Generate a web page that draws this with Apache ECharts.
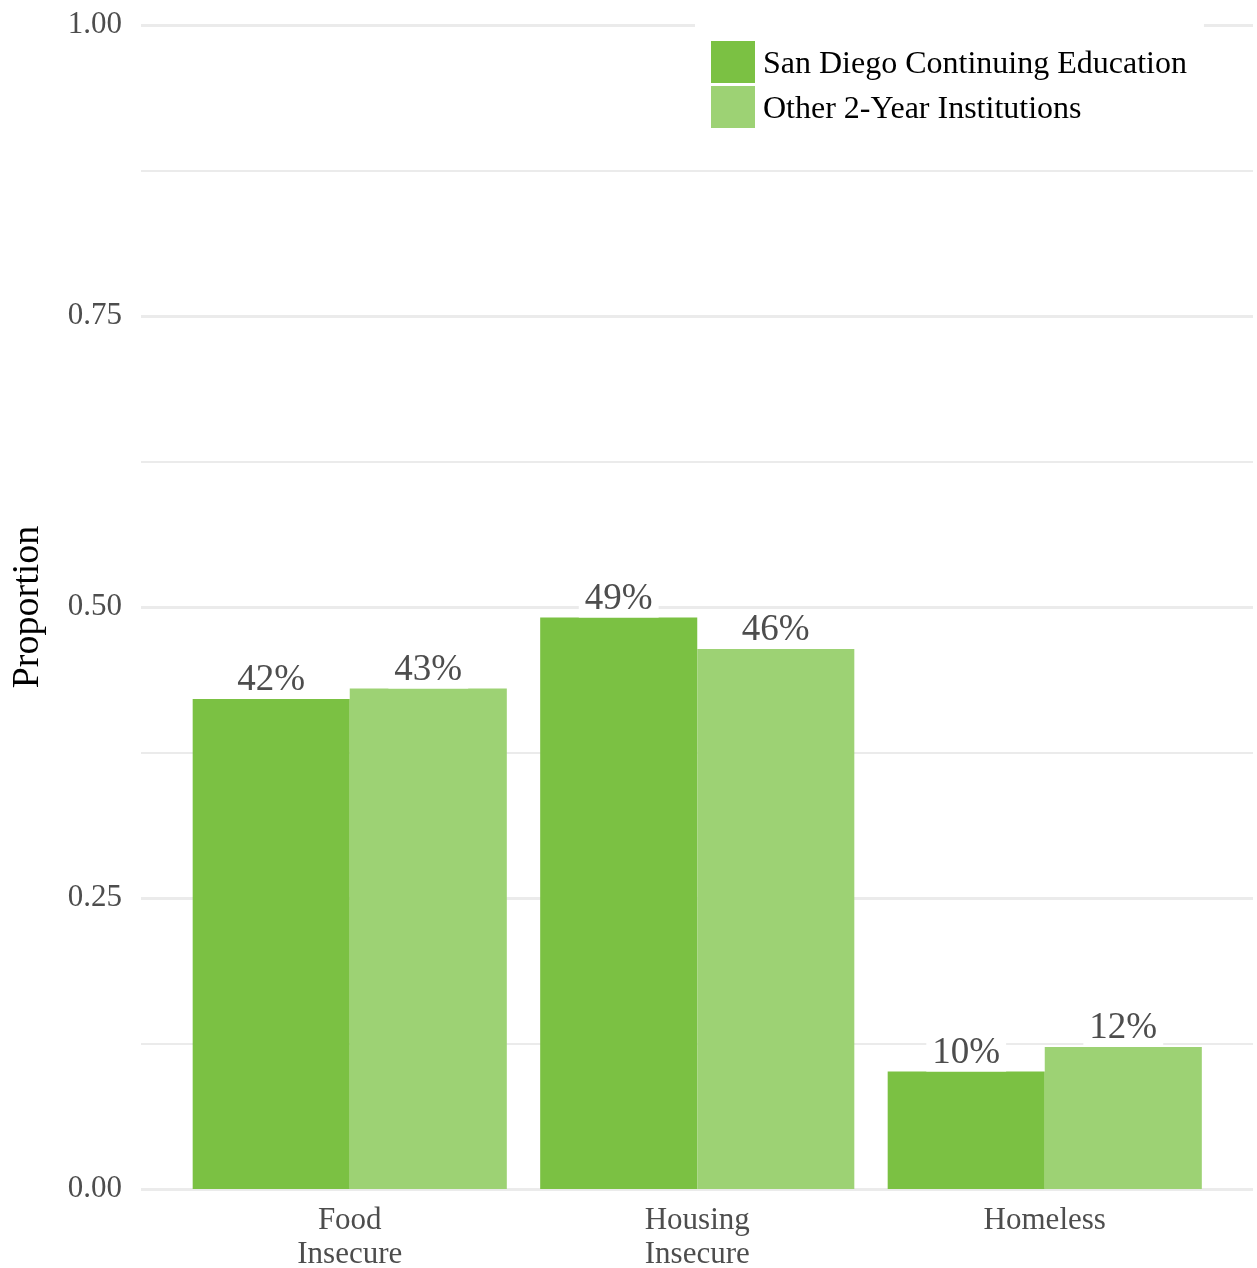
<!DOCTYPE html>
<html>
<head>
<meta charset="utf-8">
<script src="https://cdn.jsdelivr.net/npm/echarts@6/dist/echarts.min.js"></script>
<style>
  html, body { margin: 0; padding: 0; background: #fff; }
  #chart { width: 1257px; height: 1268px; }
</style>
</head>
<body>
<div id="chart"></div>
<script>
// Categories and proportions for each group
const categories = ['Food\nInsecure', 'Housing\nInsecure', 'Homeless'];
const sanDiego = [0.421, 0.491, 0.101];
const otherTwoYear = [0.43, 0.464, 0.122];
const seriesNames = ['San Diego Continuing Education', 'Other 2-Year Institutions'];
const yTicks = [0, 0.25, 0.5, 0.75, 1];

const FONT = '"Liberation Serif", "Times New Roman", serif';
const pct = p => Math.round(p.value * 100) + '%';

const barLabel = {
  show: true,
  position: 'top',
  distance: 0,
  formatter: pct,
  fontFamily: FONT,
  fontSize: 37,
  color: '#4d4d4d',
  backgroundColor: '#ffffff',
  padding: [0, 6, 0, 6],
  lineHeight: 37
};

const chart = echarts.init(document.getElementById('chart'), null, { renderer: 'canvas' });
chart.setOption({
  animation: false,
  backgroundColor: '#ffffff',
  // grid 0: full panel with the value gridlines; grid 1: the bars, inset like a padded discrete scale
  grid: [
    { left: 141, right: 4, top: 25, bottom: 79, containLabel: false, outerBoundsMode: 'none' },
    { left: 176, right: 38.5, top: 25, bottom: 79, containLabel: false, outerBoundsMode: 'none' }
  ],
  legend: {
    data: seriesNames,
    left: 695,
    top: 20,
    orient: 'vertical',
    icon: 'rect',
    itemWidth: 44,
    itemHeight: 42,
    itemGap: 3,
    padding: [21, 17, 20, 16],
    backgroundColor: '#ffffff',
    formatter: name => '{t|' + name + '}',
    textStyle: {
      padding: [0, 0, 0, 3],
      rich: {
        t: { fontFamily: FONT, fontSize: 32, color: '#000000', lineHeight: 32, padding: [6, 0, 0, 0] }
      }
    }
  },
  xAxis: [
    { type: 'category', gridIndex: 0, data: categories, show: false },
    {
      type: 'category',
      gridIndex: 1,
      data: categories,
      axisLine: { show: false },
      axisTick: { show: false },
      splitLine: { show: false },
      axisLabel: {
        fontFamily: FONT, fontSize: 31, color: '#4d4d4d',
        lineHeight: 34, margin: 15
      }
    }
  ],
  yAxis: [
    {
      type: 'value',
      gridIndex: 0,
      min: 0,
      max: 1,
      interval: 0.25,
      name: 'Proportion',
      nameLocation: 'middle',
      nameRotate: 90,
      nameGap: 94,
      nameTextStyle: { fontFamily: FONT, fontSize: 38, color: '#000000' },
      axisLine: { show: false },
      axisTick: { show: false },
      axisLabel: {
        fontFamily: FONT, fontSize: 31, color: '#4d4d4d', margin: 19,
        formatter: v => yTicks.includes(v) ? v.toFixed(2) : ''
      },
      splitLine: { show: true, lineStyle: { color: '#ebebeb', width: 3 } },
      minorTick: { show: false, splitNumber: 2 },
      minorSplitLine: { show: true, lineStyle: { color: '#ebebeb', width: 2 } }
    },
    {
      type: 'value',
      gridIndex: 1,
      min: 0,
      max: 1,
      show: false,
      splitLine: { show: false }
    }
  ],
  series: [
    {
      name: seriesNames[0],
      type: 'bar',
      xAxisIndex: 1,
      yAxisIndex: 1,
      data: sanDiego,
      barGap: '0%',
      barCategoryGap: '9.6%',
      itemStyle: { color: '#7bc143' },
      label: barLabel
    },
    {
      name: seriesNames[1],
      type: 'bar',
      xAxisIndex: 1,
      yAxisIndex: 1,
      data: otherTwoYear,
      barGap: '0%',
      barCategoryGap: '9.6%',
      itemStyle: { color: '#9dd274' },
      label: barLabel
    }
  ]
});
</script>
</body>
</html>
